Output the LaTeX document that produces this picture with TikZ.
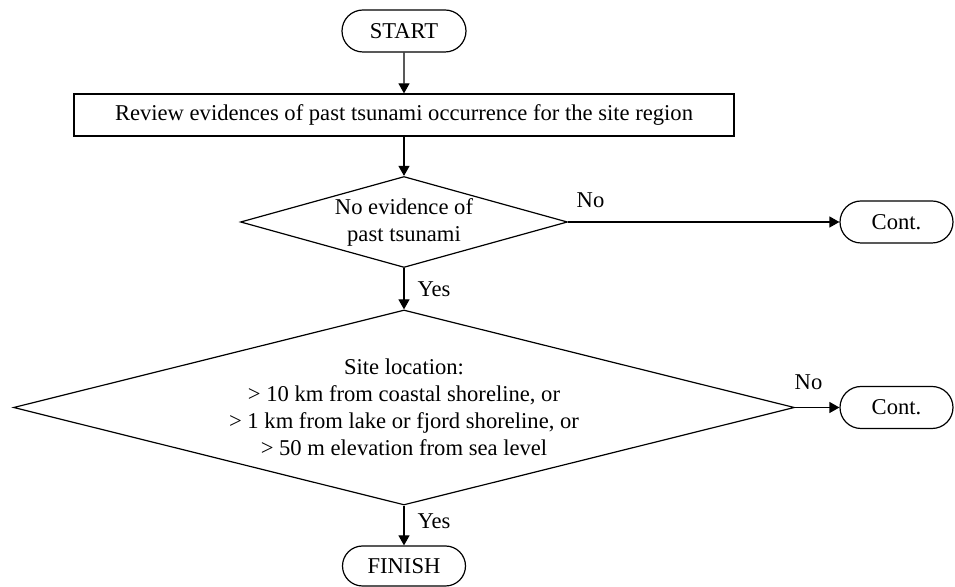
\documentclass[tikz,border=0pt]{standalone}
\usepackage{fontspec}
\setmainfont{Liberation Serif}
\usetikzlibrary{shapes.geometric,shapes.misc,arrows.meta}

\begin{document}
\begin{tikzpicture}[x=0.5pt, y=-0.5pt,
    every node/.style={font=\fontsize{11.3}{13.5}\selectfont},
    terminal/.style={draw, rounded rectangle, line width=0.6pt, minimum height=21pt, inner sep=0pt},
    process/.style={draw, rectangle, line width=0.6pt, minimum height=21pt, inner sep=0pt},
    decision/.style={draw, diamond, line width=0.6pt, inner sep=0pt},
    flow/.style={line width=0.6pt, -{Triangle[length=5pt, width=5.5pt]}},
    answer/.style={inner sep=0pt}]
    \useasboundingbox (0,0) rectangle (955,587);

    % main column
    \node[terminal, minimum width=62pt] (start) at (404,31) {START};
    \node[process, minimum width=330pt] (review) at (404,115) {Review evidences of past tsunami occurrence for the site region};
    \node[decision, minimum width=163.5pt, minimum height=45.5pt,
        label={[align=center]center:{No evidence of\\past tsunami}}] (pastq) at (404,222) {};
    \node[decision, minimum width=390.5pt, minimum height=97.5pt,
        label={[align=center]center:{Site location:\\> 10 km from coastal shoreline, or\\> 1 km from lake or fjord shoreline, or\\> 50 m elevation from sea level}}] (siteq) at (404,407.5) {};
    \node[terminal, minimum width=61.5pt, minimum height=20pt] (finish) at (404,566) {FINISH};

    % exits to the right
    \node[terminal, minimum width=56.5pt] (cont1) at (896.5,222) {Cont.};
    \node[terminal, minimum width=56.5pt] (cont2) at (896.5,407.5) {Cont.};

    \draw[flow] (start) -- (review);
    \draw[flow] (review) -- (pastq);
    \draw[flow] (pastq.south) -- node[answer, midway, anchor=west, xshift=6.5pt] (yes1) {Yes} (siteq.north);
    \draw[flow] (siteq.south) -- node[answer, midway, anchor=west, xshift=6.5pt, yshift=2.25pt] (yes2) {Yes} (finish.north);
    \draw[flow] (pastq.east) -- node[answer, pos=0, anchor=south west, xshift=4pt, yshift=7pt] (no1) {No} (cont1.west);
    \draw[flow] (siteq.east) -- node[answer, pos=0, anchor=south west, xshift=-0.5pt, yshift=8.5pt] (no2) {No} (cont2.west);

\end{tikzpicture}
\end{document}
